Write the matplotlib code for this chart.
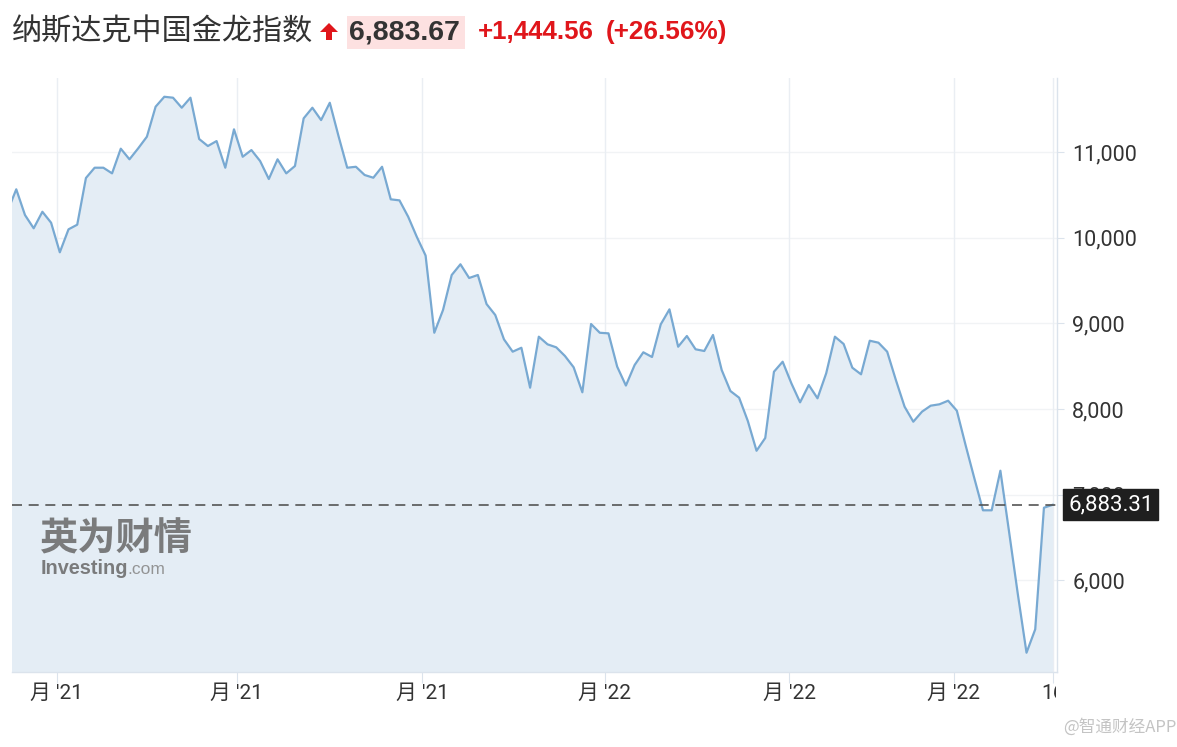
import numpy as np
import matplotlib
matplotlib.use("Agg")
import matplotlib.pyplot as plt
from matplotlib.patches import Polygon, Rectangle

# weekly closes (first value sits just left of the visible area)
close = [10310,
         10565, 10265, 10110, 10303, 10175, 9830, 10098, 10152, 10697, 10817,
         10817, 10751, 11039, 10915, 11043, 11179, 11529, 11645, 11634, 11517,
         11634, 11152, 11070, 11128, 10817, 11265, 10945, 11023, 10895, 10685,
         10915, 10751, 10837, 11393, 11517, 11373, 11575, 11187, 10817, 10828,
         10732, 10700, 10828, 10448, 10436,
         10245, 10008, 9792, 8891, 9156, 9565, 9690, 9530, 9565, 9226,
         9098, 8814, 8670, 8716, 8250, 8845, 8756, 8721, 8620, 8488,
         8196, 8993, 8891, 8884, 8495, 8275, 8514, 8663, 8608, 8989,
         9164, 8728, 8853, 8698, 8678, 8865, 8456, 8211, 8133, 7861,
         7514, 7663, 8436, 8553, 8301, 8079, 8281, 8126, 8418, 8845,
         8760, 8483, 8406, 8798, 8775, 8670, 8339, 8028, 7853, 7970,
         8040, 8056, 8098, 7981, 7581, 7196, 6819, 6819, 7281, 6566,
         5842, 5157, 5430, 6849, 6883.31]

last_price = 6883.31
header_title = "纳斯达克中国金龙指数"
header_price = "6,883.67"
header_change = "+1,444.56"
header_pct = "(+26.56%)"

tick_pos = [4.67, 25.34, 46.59, 67.6, 88.73, 107.67, 119]
tick_labels = ["月 '21", "月 '21", "月 '21", "月 '22", "月 '22", "月 '22", "16"]
y_ticks = [6000, 7000, 8000, 9000, 10000, 11000]

W, H = 1177, 747
fig = plt.figure(figsize=(W / 100, H / 100), dpi=100)
fig.patch.set_facecolor("white")

ax = fig.add_axes([12 / W, (H - 672) / H, (1057 - 12) / W, (672 - 78) / H])
x = np.arange(len(close)) - 1

ax.set_xlim(-0.49, 119.5)
ax.set_ylim(4932, 11864)
ax.fill_between(x, close, 4932, color="#e4edf5", lw=0)
ax.plot(x, close, color="#78a9d2", lw=1.6)
ax.axhline(last_price, color="#555555", lw=1.2, ls=(0, (6, 4)))

# grid
for t in y_ticks:
    ax.axhline(t, color="#f1f3f5", lw=1, zorder=0)
for t in tick_pos:
    ax.axvline(t, color="#eaeef3", lw=1, zorder=0)

for s in ["top", "left"]:
    ax.spines[s].set_visible(False)
for s in ["bottom", "right"]:
    ax.spines[s].set_color("#dbe3ec")
    ax.spines[s].set_linewidth(1)

ax.yaxis.tick_right()
ax.set_yticks(y_ticks)
ax.set_yticklabels([f"{v:,}" for v in y_ticks])
ax.tick_params(axis="y", length=5, color="#dbe3ec", pad=6, labelsize=15.5,
               labelcolor="#333333")
for lab in ax.get_yticklabels():
    lab.set_fontfamily("Roboto")

ax.set_xticks(tick_pos)
ax.set_xticklabels([])
ax.tick_params(axis="x", length=8, color="#dbe3ec")
for p, lab in zip(tick_pos, tick_labels):
    t = ax.text(p, -0.036, lab, transform=ax.get_xaxis_transform(),
                ha="center", va="center", fontsize=15, color="#333333",
                family=["Roboto", "Noto Sans CJK SC"])
    if lab == "16":
        # the last label is cut off at the plot edge in the original
        t.set_clip_on(True)
        t.set_clip_path(Rectangle((0, 0), 1056, H, transform=None))

# price tag on the right
ax.annotate("6,883.31", xy=(1, last_price), xycoords=ax.get_yaxis_transform(),
            xytext=(8, 0), textcoords="offset points", ha="left", va="center",
            fontsize=16, color="white", family="Roboto",
            bbox=dict(boxstyle="square,pad=0.22", fc="#1f1f1f", ec="#1f1f1f"))

# watermark
fig.text(40 / W, 1 - 539 / H, "英为财情", fontsize=27.5, fontweight="heavy",
         color="#6f6f6f", family="Noto Sans CJK SC", va="center", alpha=0.9)
fig.text(41 / W, 1 - 568 / H, "Investing", fontsize=14.3, fontweight="bold",
         color="#6f6f6f", family="Liberation Sans", va="center", alpha=0.9)
fig.text(127 / W, 1 - 569 / H, ".com", fontsize=12.5,
         color="#8a8a8a", family="Liberation Sans", va="center", alpha=0.9)

# header
fig.text(12 / W, 1 - 32 / H, header_title, fontsize=21.7, color="#333333",
         family="Noto Sans CJK SC", va="center")
arrow = [(320, 32), (329, 23), (338, 32), (332, 32), (332, 40), (326, 40), (326, 32)]
fig.patches.append(Polygon([(a / W, 1 - b / H) for a, b in arrow], closed=True,
                           transform=fig.transFigure, fc="#e0161b", ec="none"))
fig.patches.append(Rectangle((347 / W, 1 - 49 / H), 118 / W, 33 / H,
                             transform=fig.transFigure, fc="#fde1e1", ec="none"))
fig.text(349 / W, 1 - 32 / H, header_price, fontsize=20.5, fontweight="bold",
         color="#333333", family="Liberation Sans", va="center")
fig.text(478 / W, 1 - 32 / H, header_change, fontsize=18.6, fontweight="bold",
         color="#e0161b", family="Liberation Sans", va="center")
fig.text(606 / W, 1 - 32 / H, header_pct, fontsize=18.8, fontweight="bold",
         color="#e0161b", family="Liberation Sans", va="center")

fig.text(1177 / W, 1 - 727 / H, "@智通财经APP", fontsize=12, color="#c4c4c4",
         family="Noto Sans CJK SC", ha="right", va="center")

fig.savefig("out.png", dpi=100)
